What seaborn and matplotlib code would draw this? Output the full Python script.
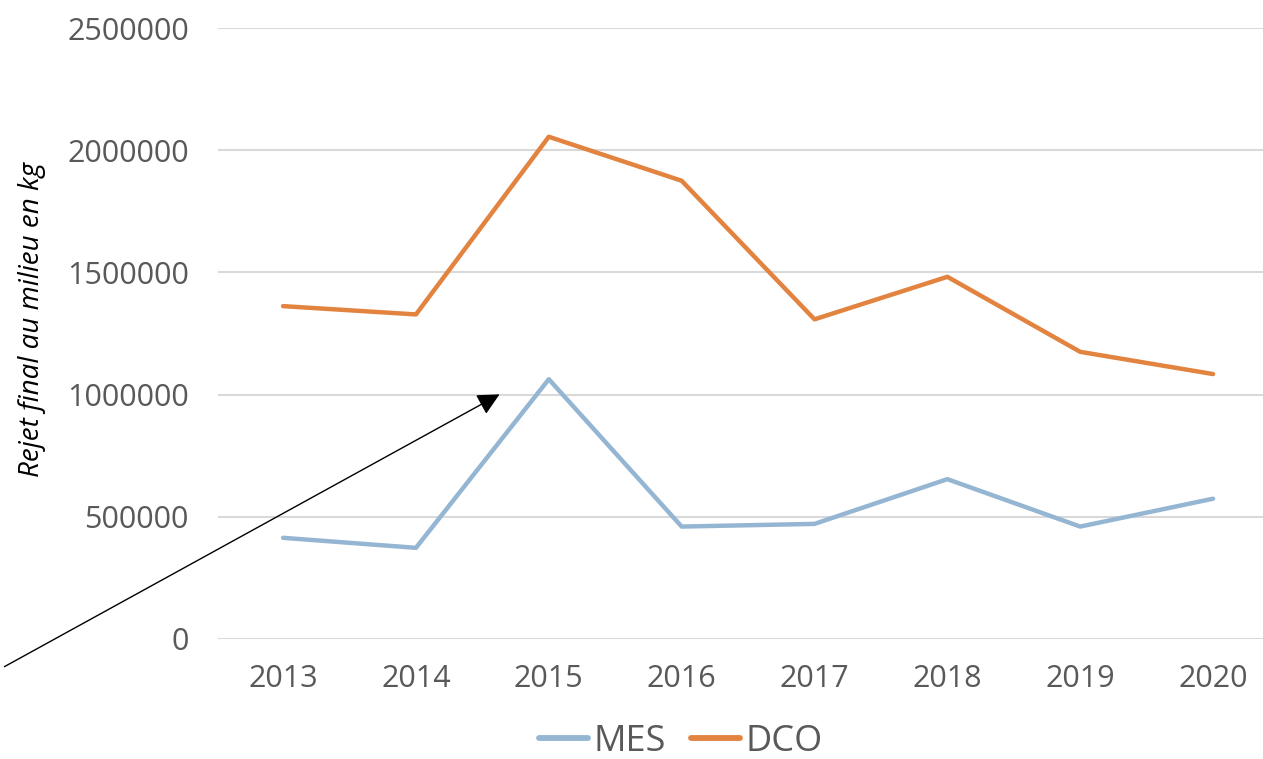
import matplotlib
matplotlib.use("Agg")
import matplotlib.pyplot as plt
import seaborn as sns
import pandas as pd
from matplotlib.patches import FancyArrowPatch
from matplotlib.lines import Line2D

years = [2013, 2014, 2015, 2016, 2017, 2018, 2019, 2020]
mes = [414000, 373000, 1063000, 460000, 471000, 654000, 460000, 574000]
dco = [1362000, 1328000, 2055000, 1875000, 1308000, 1482000, 1175000, 1084000]
series_names = ["MES", "DCO"]
yticks = [0, 500000, 1000000, 1500000, 2000000, 2500000]
ylabel = "Rejet final au milieu en kg"

df = pd.DataFrame({
    "year": years * 2,
    "value": mes + dco,
    "series": ["MES"] * len(years) + ["DCO"] * len(years),
})

sns.set_theme(style="white")
plt.rcParams["font.family"] = ["Open Sans", "DejaVu Sans"]

fig = plt.figure(figsize=(12.63, 7.59), dpi=100)
ax = fig.add_axes([218 / 1263, 1 - 639 / 759, 1 - 218 / 1263, 611 / 759])

palette = {"MES": "#94B6D3", "DCO": "#E2833F"}
sns.lineplot(data=df, x="year", y="value", hue="series", hue_order=series_names,
             palette=palette, linewidth=3.2, ax=ax, legend=False,
             solid_capstyle="round")

ax.set_ylim(0, 2500000)
ax.set_xlim(years[0] - 0.49, years[-1] + 0.376)
ax.set_yticks(yticks)
ax.set_yticklabels([str(v) for v in yticks])
ax.set_xticks(years)
ax.set_xticklabels([str(y) for y in years])
ax.yaxis.grid(True, color="#D9D9D9", linewidth=1.5)
ax.xaxis.grid(False)
ax.set_axisbelow(True)
for s in ax.spines.values():
    s.set_visible(False)
ax.tick_params(axis="both", length=0, labelsize=22, labelcolor="#595959")
ax.tick_params(axis="y", pad=21)
ax.tick_params(axis="x", pad=18)
ax.set_xlabel("")
ax.set_ylabel("")
fig.text(32 / 1263, 1 - 320 / 759, ylabel, rotation=90, fontsize=20, fontstyle="italic",
         color="#000000", ha="center", va="center")

# legend
handles = [Line2D([], [], color=palette[n], linewidth=4.2, solid_capstyle="round") for n in series_names]
leg = fig.legend(handles, series_names, loc="center", bbox_to_anchor=(681 / 1263, 1 - 742 / 759),
                 ncol=2, frameon=False, fontsize=26, handlelength=1.35, handletextpad=0.15,
                 columnspacing=0.7, borderpad=0, borderaxespad=0)
for t in leg.get_texts():
    t.set_color("#595959")

# annotation arrow
arrow = FancyArrowPatch((2 / 1263, 1 - 668 / 759), (502 / 1263, 1 - 393 / 759),
                        transform=fig.transFigure, arrowstyle="-|>,head_length=0.9,head_width=0.45",
                        mutation_scale=15, color="black", linewidth=1.0)
fig.add_artist(arrow)

fig.savefig("out.png", dpi=100)
